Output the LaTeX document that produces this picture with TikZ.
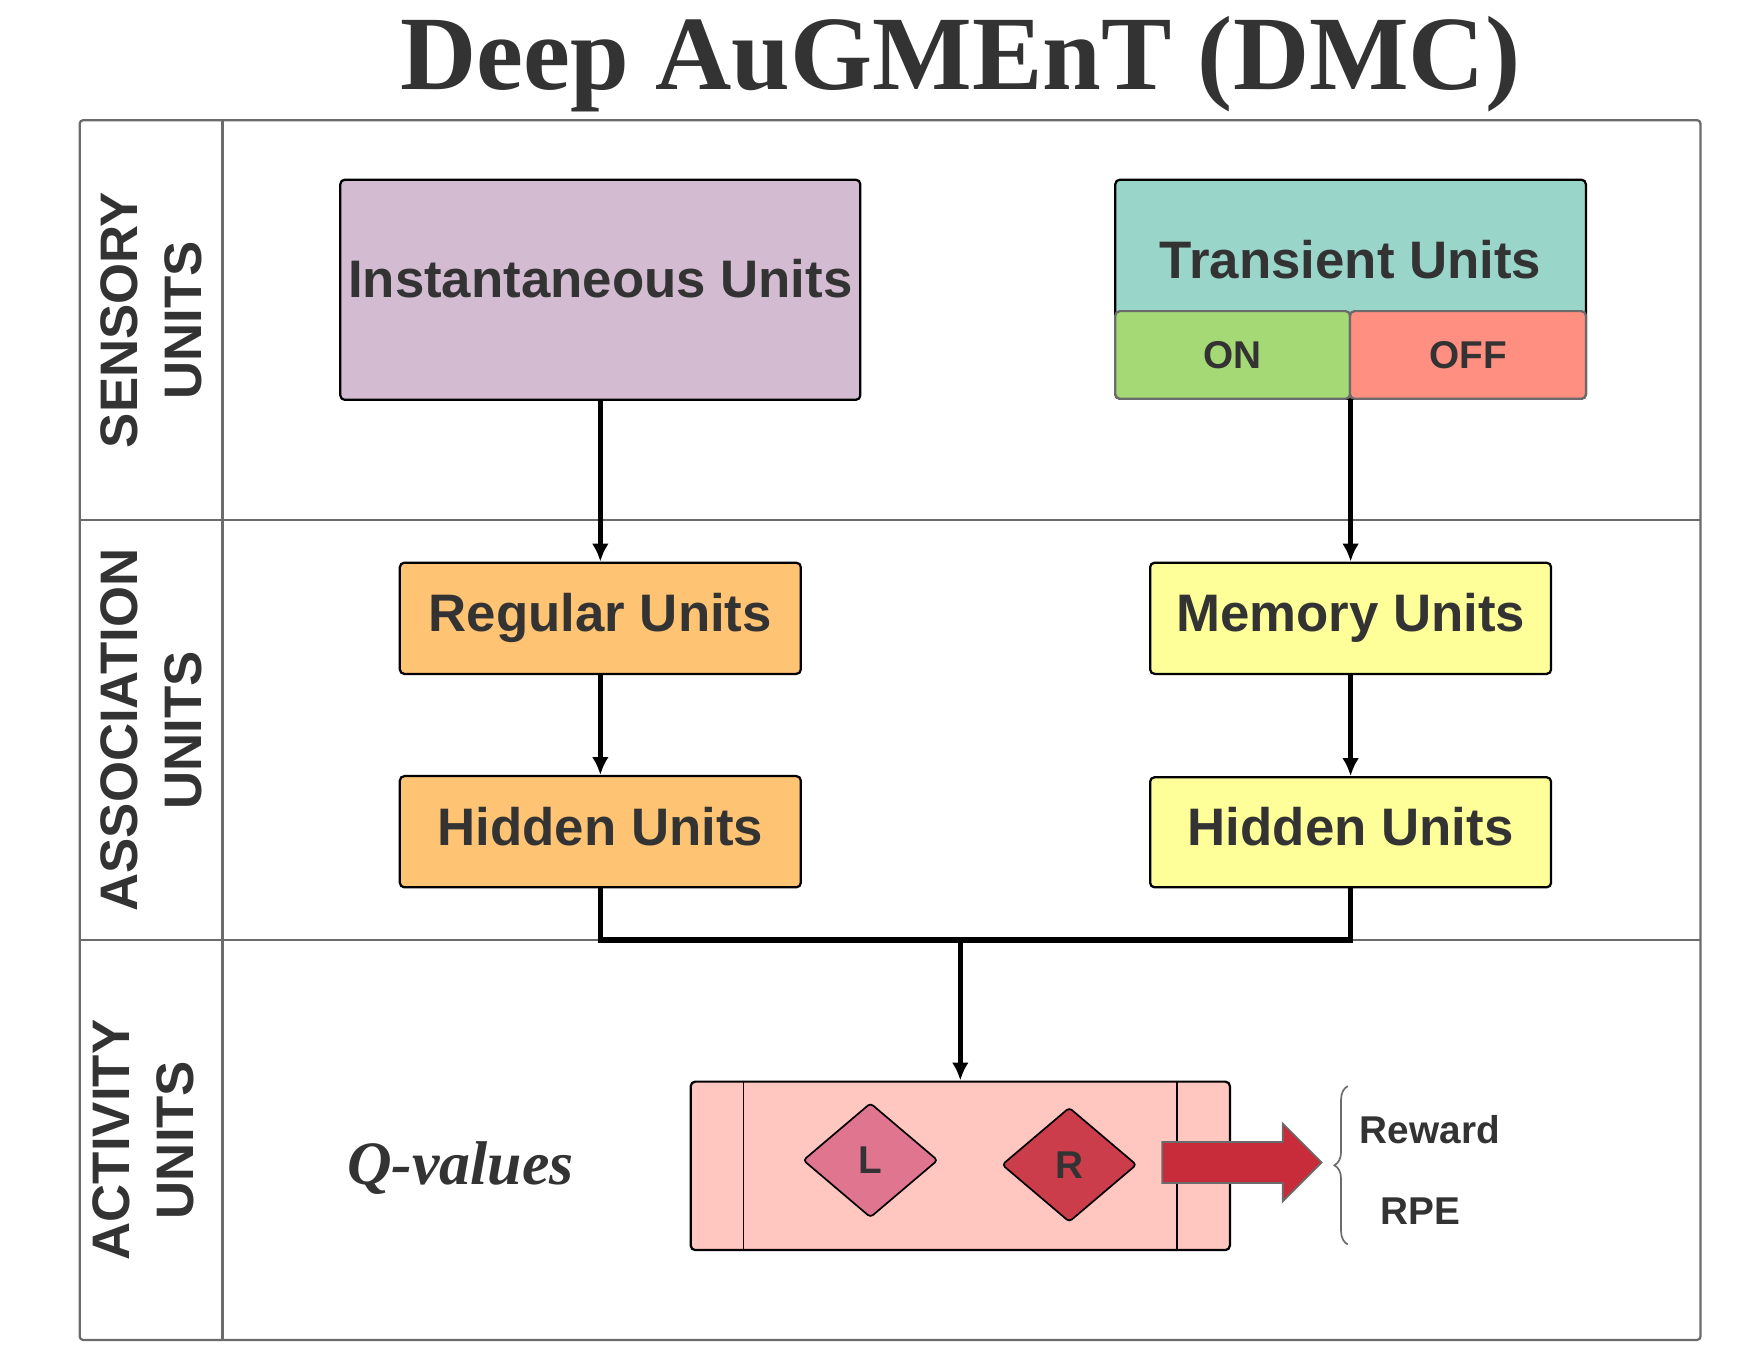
\documentclass[tikz,border=0pt]{standalone}
\usepackage{fontspec}
\setsansfont{Liberation Sans}
\newfontfamily\titlefont{Liberation Serif}
\usepackage{tikz}
\usetikzlibrary{arrows.meta, shapes.geometric, shapes.arrows, decorations.pathreplacing, positioning}

\definecolor{txt}{HTML}{333333}
\definecolor{frame}{HTML}{6B6B6B}
\definecolor{instcol}{HTML}{D3BCD2}
\definecolor{transcol}{HTML}{9AD5CA}
\definecolor{oncol}{HTML}{A5D975}
\definecolor{offcol}{HTML}{FF8F80}
\definecolor{regcol}{HTML}{FFC374}
\definecolor{memcol}{HTML}{FFFF99}
\definecolor{qcol}{HTML}{FFC7C0}
\definecolor{lcol}{HTML}{E07590}
\definecolor{rcol}{HTML}{CC3D4C}
\definecolor{arrcol}{HTML}{C82C3A}

\tikzset{
  lane/.style={draw=frame, line width=2pt},
  lanetitle/.style={rotate=90, align=center, text=txt, font=\sffamily\bfseries\fontsize{47}{57}\selectfont},
  box/.style={draw=black, line width=2pt, rounded corners=4pt, inner sep=0pt, text=txt,
    font=\sffamily\bfseries\fontsize{47}{56}\selectfont, text height=34pt, text depth=10pt},
  small/.style={text=txt, font=\sffamily\bfseries\fontsize{34.5}{40}\selectfont},
  half/.style={draw=frame, line width=2pt, rounded corners=4pt, inner sep=0pt, minimum height=78pt},
  diam/.style={diamond, draw=black, line width=1.5pt, rounded corners=3pt, inner sep=0pt,
    minimum width=120pt, minimum height=102pt, small},
  wire/.style={line width=5pt}
}

\begin{document}
\begin{tikzpicture}[x=1pt, y=-1pt, >={Latex[length=16pt,width=15pt]}]
\useasboundingbox (0,0) rectangle (1567,1211);

\node[font=\titlefont\bfseries\fontsize{94}{100}\selectfont, text=txt, anchor=base] (title) at (855,80) {Deep AuGMEnT (DMC)};

% lanes
\draw[lane, rounded corners=3pt] (71,107) rectangle (1514,1193);
\draw[lane]
(198,107) -- (198,1193)
(71,463) -- (1514,463)
(71,837) -- (1514,837);
\node[lanetitle] (sensory) at (135,285) {SENSORY\\UNITS};
\node[lanetitle] (assoc) at (135,650) {ASSOCIATION\\UNITS};
\node[lanetitle] (activity) at (128,1015) {ACTIVITY\\UNITS};

% sensory units
\node[box, fill=instcol, minimum width=463pt, minimum height=196pt] (inst) at (534.5,258) {};
\node[box, draw=none] (instTxt) at (534.5,253) {Instantaneous Units};
\node[box, fill=transcol, minimum width=419pt, minimum height=195pt] (trans) at (1202.5,257.5) {};
\node[box, draw=none] (transTxt) at (1202.5,236) {Transient Units};
\node[half, fill=oncol, minimum width=209pt, small] (on) at (1097.5,316) {ON};
\node[half, fill=offcol, minimum width=210pt, small] (off) at (1307,316) {OFF};

% association units
\node[box, fill=regcol, minimum width=357pt, minimum height=99pt] (reg) at (534.5,550.5) {Regular Units};
\node[box, fill=regcol, minimum width=357pt, minimum height=99pt] (hidL) at (534.5,740.5) {Hidden Units};
\node[box, fill=memcol, minimum width=357pt, minimum height=99pt] (mem) at (1202.5,550.5) {Memory Units};
\node[box, fill=memcol, minimum width=357pt, minimum height=98pt] (hidR) at (1202.5,741) {Hidden Units};

% activity units
\node[font=\titlefont\bfseries\itshape\fontsize{55}{60}\selectfont, text=txt, anchor=base] (qlab) at (410,1055) {Q-values};
\node[box, fill=qcol, minimum width=480pt, minimum height=150pt] (qbox) at (855,1038) {};
\draw[line width=1.5pt]
([xshift=48pt]qbox.north west) -- ([xshift=48pt]qbox.south west)
([xshift=-48pt]qbox.north east) -- ([xshift=-48pt]qbox.south east);
\node[diam, fill=lcol] (left) at (775,1033) {L};
\node[diam, fill=rcol] (right) at (952,1037) {R};
\node[single arrow, draw=frame, fill=arrcol, line width=1.5pt, anchor=tail,
  minimum height=142pt, minimum width=68pt, inner xsep=0pt, inner ysep=17.5pt,
  single arrow head extend=16.5pt, single arrow tip angle=90] (out) at (1034,1035) {};
\draw[frame, line width=1.5pt, decorate, decoration={brace, amplitude=12pt}] (1200,1108) -- (1200,967);
\node[small] (reward) at (1273,1006) {Reward};
\node[small] (rpe) at (1265,1078) {RPE};

% connectors
\coordinate (merge) at (855,837);
\draw
(inst) edge[wire,->] (reg)
(reg) edge[wire,->] (hidL)
(trans) edge[wire,->] (mem)
(mem) edge[wire,->] (hidR);
\draw[wire] (hidL.south) |- (merge) -| (hidR.south);
\draw[wire,->] (merge) -- (qbox.north);
\end{tikzpicture}
\end{document}
